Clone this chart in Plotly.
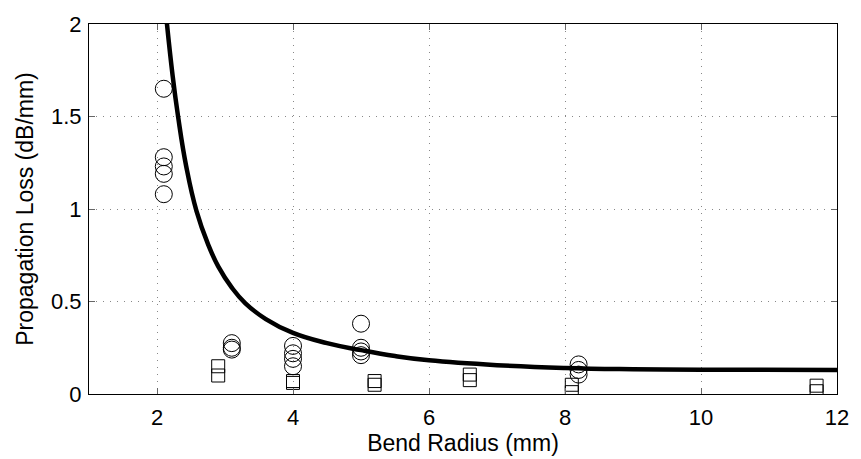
import plotly.graph_objects as go

# Measured data: circles
circ_x = [2.1, 2.1, 2.1, 2.1, 2.1, 3.1, 3.1, 3.1, 4.0, 4.0, 4.0, 4.0, 5.0, 5.0, 5.0, 5.0, 8.2, 8.2, 8.2]
circ_y = [1.65, 1.28, 1.23, 1.19, 1.08, 0.275, 0.25, 0.24, 0.26, 0.22, 0.19, 0.15, 0.38, 0.25, 0.23, 0.21, 0.16, 0.13, 0.105]

# Measured data: squares
sq_x = [2.9, 2.9, 4.0, 4.0, 5.2, 5.2, 6.6, 6.6, 8.1, 8.1, 11.7, 11.7]
sq_y = [0.15, 0.10, 0.07, 0.06, 0.07, 0.05, 0.105, 0.075, 0.05, 0.01, 0.045, 0.015]

# Fitted curve
fit_x = [2.13, 2.23, 2.31, 2.43, 2.58, 2.75, 2.9, 3.1, 3.3, 3.6, 4.0, 4.5, 5.0, 5.5, 6.0, 7.0, 8.0, 9.0, 10.0, 12.0]
fit_y = [2.06, 1.72, 1.5, 1.23, 0.99, 0.81, 0.69, 0.575, 0.49, 0.405, 0.33, 0.275, 0.237, 0.205, 0.182, 0.156, 0.141, 0.134, 0.131, 0.13]

x_ticks = [2, 4, 6, 8, 10, 12]
y_ticks = [0, 0.5, 1, 1.5, 2]
y_tick_text = ["0", "0.5", "1", "1.5", "2"]

fig = go.Figure()
fig.add_trace(go.Scatter(x=fit_x, y=fit_y, mode="lines",
                         line=dict(color="black", width=4.5, shape="spline", smoothing=1.3),
                         hoverinfo="skip", showlegend=False))
fig.add_trace(go.Scatter(x=circ_x, y=circ_y, mode="markers",
                         marker=dict(symbol="circle-open", size=17, color="black",
                                     line=dict(color="black", width=1)),
                         showlegend=False))
fig.add_trace(go.Scatter(x=sq_x, y=sq_y, mode="markers",
                         marker=dict(symbol="square-open", size=13, color="black",
                                     line=dict(color="black", width=1)),
                         showlegend=False))

font_family = "Liberation Sans, Arial, sans-serif"
grid_dash = "1px,6px"
fig.update_layout(
    width=861, height=459,
    margin=dict(l=89, r=15, t=19, b=62),
    paper_bgcolor="white", plot_bgcolor="white",
    font=dict(family=font_family, size=22, color="black"),
    xaxis=dict(range=[1, 12], tickvals=x_ticks, ticks="inside", ticklen=6, tickcolor="#666",
               showline=True, linecolor="black", linewidth=1, mirror="ticks",
               showgrid=True, gridcolor="#888", griddash=grid_dash, gridwidth=1,
               zeroline=False, tickfont=dict(size=22), ticklabelstandoff=4,
               title=dict(text="Bend Radius (mm)", font=dict(size=23), standoff=0)),
    yaxis=dict(range=[0, 2], tickvals=y_ticks, ticktext=y_tick_text, ticks="inside", ticklen=6,
               tickcolor="#666",
               showline=True, linecolor="black", linewidth=1, mirror="ticks",
               showgrid=True, gridcolor="#888", griddash=grid_dash, gridwidth=1,
               zeroline=False, tickfont=dict(size=22), ticklabelstandoff=2,
               title=dict(text="Propagation Loss (dB/mm)", font=dict(size=23), standoff=10)),
)

fig.write_html("out.html")
